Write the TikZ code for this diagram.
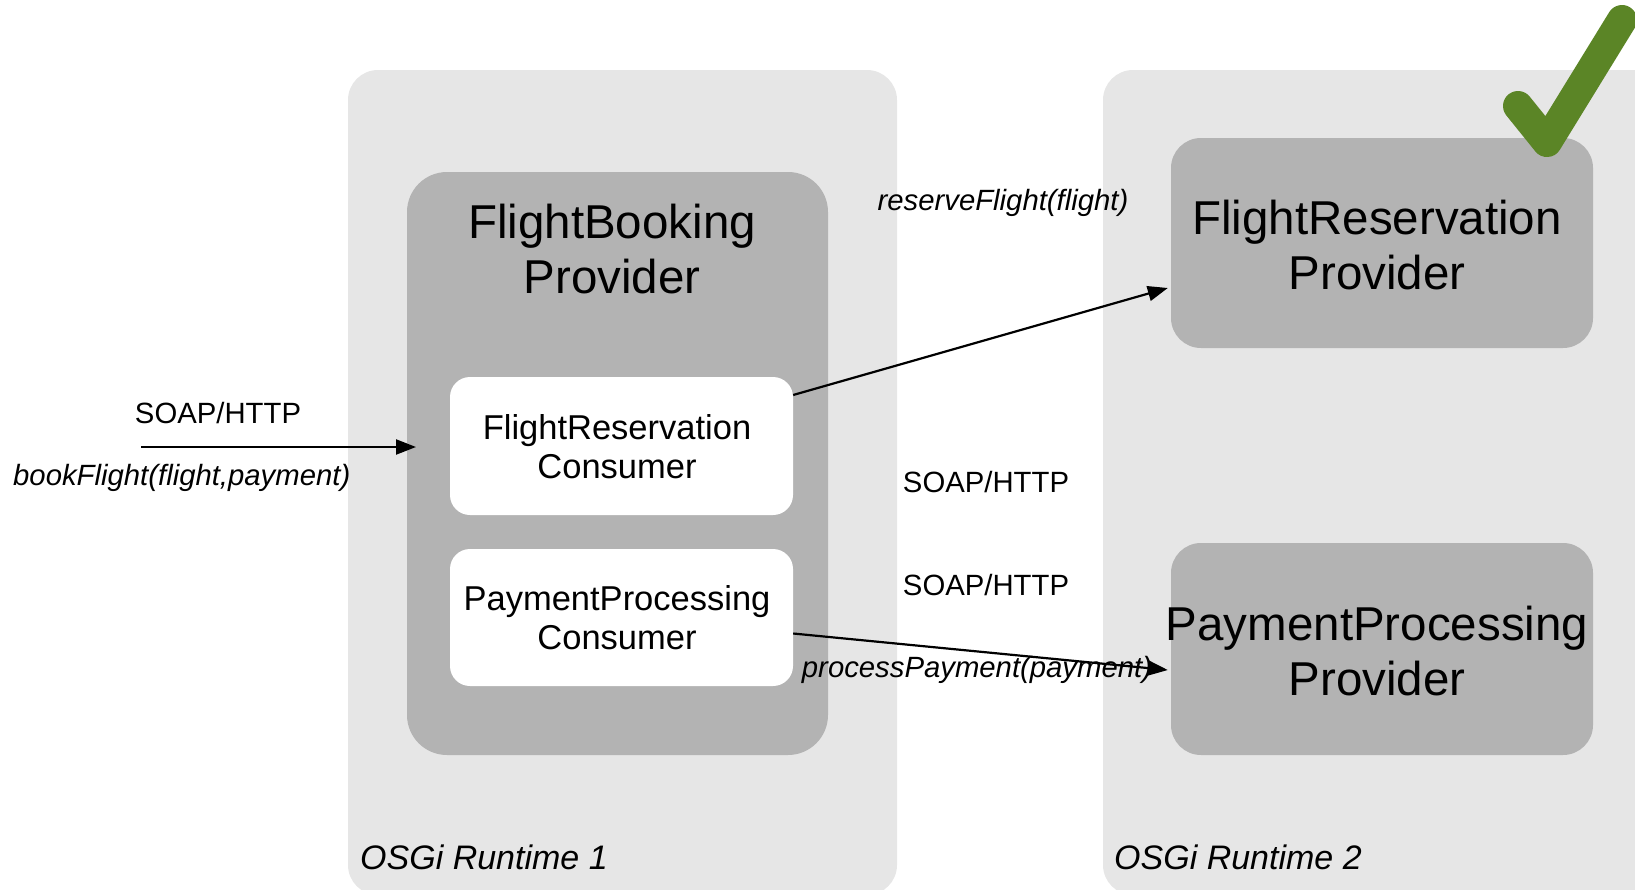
\documentclass[tikz,border=0pt]{standalone}
\usepackage{fontspec}
\setmainfont{Liberation Sans}
\usetikzlibrary{arrows.meta}
\definecolor{runtimegray}{HTML}{E6E6E6}
\definecolor{providergray}{HTML}{B3B3B3}
\definecolor{checkgreen}{HTML}{5B8526}

\begin{document}
\begin{tikzpicture}[x=1pt, y=-1pt,
	big/.style={font=\fontsize{47.5}{55}\selectfont, align=center},
	mid/.style={font=\fontsize{34.5}{39}\selectfont, align=center},
	small/.style={font=\fontsize{29.3}{34}\selectfont},
	call/.style={font=\fontsize{29.3}{34}\selectfont\itshape},
	msg/.style={line width=2.2pt, -{Triangle[length=20pt, width=15pt]}}]
	\useasboundingbox (0,0) rectangle (1635,889);
	\clip (0,0) rectangle (1635,889);
	\fill [runtimegray, rounded corners=30pt] (348,70) rectangle (897,895);
	\fill [runtimegray, rounded corners=30pt] (1103,70) rectangle (1668,895);
	\node (booking) [fill=providergray, rounded corners=40pt, minimum width=421pt, minimum height=583pt] at (617.5,463.5) {};
	\node (bookingtext) [big] at (612,249) {FlightBooking\\Provider};
	\node (frcons) [fill=white, rounded corners=20pt, minimum width=343pt, minimum height=138pt] at (621.5,446) {};
	\node (frconstext) [mid] at (617,447) {FlightReservation\\Consumer};
	\node (ppcons) [fill=white, rounded corners=20pt, minimum width=343pt, minimum height=137pt] at (621.5,617.5) {};
	\node (ppconstext) [mid] at (617,618) {PaymentProcessing\\Consumer};
	\node (frprov) [fill=providergray, rounded corners=30pt, minimum width=422pt, minimum height=210pt] at (1382,243) {};
	\node (frprovtext) [big] at (1377,245) {FlightReservation\\Provider};
	\node (ppprov) [fill=providergray, rounded corners=30pt, minimum width=422pt, minimum height=212pt] at (1382,649) {};
	\node (ppprovtext) [big] at (1377,651) {PaymentProcessing\\Provider};
	\draw [checkgreen, line width=30pt, line cap=round, line join=round] (1518,106) -- (1547,142) -- (1622,20);
	\coordinate (client) at (141,447);
	\coordinate (bookin) at (416,447);
	\draw [msg] (client) -- (bookin);
	\draw [msg] ([yshift=51pt]frcons.east) -- ([xshift=-3pt, yshift=-45pt]frprov.west);
	\draw [msg] ([yshift=-16pt]ppcons.east) -- ([xshift=-3pt, yshift=-21pt]ppprov.west);
	\node (soapin) [small] at (218,413) {SOAP/HTTP};
	\node (bookcall) [call, anchor=west, inner sep=0pt] at (13,478) {bookFlight(flight,payment)};
	\node (reservecall) [call] at (1003,203) {reserveFlight(flight)};
	\node (soapfr) [small] at (986,482) {SOAP/HTTP};
	\node (soappp) [small] at (986,585) {SOAP/HTTP};
	\node (paycall) [call] at (977,670) {processPayment(payment)};
	\node (runtime1) [font=\fontsize{34}{40}\selectfont\itshape, anchor=west, inner sep=0pt] at (360,857) {OSGi Runtime 1};
	\node (runtime2) [font=\fontsize{34}{40}\selectfont\itshape, anchor=west, inner sep=0pt] at (1114,857) {OSGi Runtime 2};
\end{tikzpicture}
\end{document}
